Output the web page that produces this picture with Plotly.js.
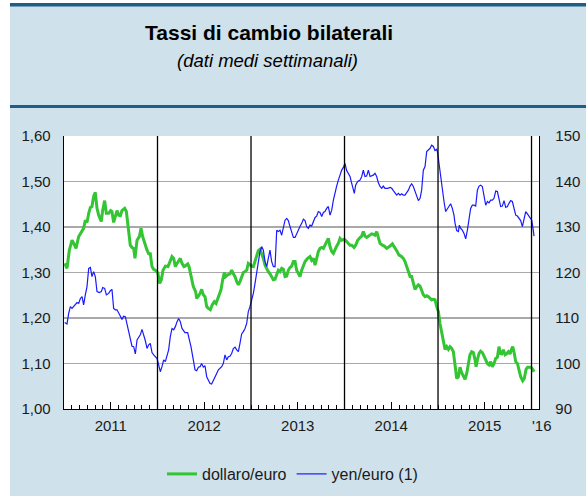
<!DOCTYPE html>
<html>
<head>
<meta charset="utf-8">
<script src="https://cdn.plot.ly/plotly-3.0.1.min.js"></script>
<style>
html,body{margin:0;padding:0;background:#cfe1eb;overflow:hidden;}
#chart{width:586px;height:496px;}
</style>
</head>
<body>
<div id="chart"></div>
<script>
// Weekly averages: [decimal year, value]
const dollaroEuro = [
[2011.007,1.320],[2011.032,1.309],[2011.057,1.349],[2011.086,1.371],[2011.114,1.360],[2011.128,1.353],[2011.157,1.379],[2011.185,1.390],[2011.210,1.397],[2011.228,1.415],[2011.246,1.410],[2011.264,1.430],[2011.282,1.443],[2011.299,1.445],[2011.317,1.467],[2011.335,1.476],[2011.353,1.441],[2011.371,1.426],[2011.399,1.412],[2011.414,1.437],[2011.435,1.458],[2011.453,1.430],[2011.478,1.430],[2011.499,1.436],[2011.513,1.434],[2011.531,1.410],[2011.549,1.423],[2011.567,1.436],[2011.585,1.426],[2011.603,1.425],[2011.620,1.436],[2011.649,1.441],[2011.667,1.434],[2011.684,1.400],[2011.709,1.360],[2011.727,1.355],[2011.745,1.353],[2011.759,1.331],[2011.781,1.371],[2011.806,1.379],[2011.824,1.397],[2011.841,1.379],[2011.863,1.364],[2011.888,1.349],[2011.906,1.341],[2011.923,1.341],[2011.941,1.313],[2011.959,1.307],[2011.984,1.304],
[2012.005,1.298],[2012.023,1.276],[2012.041,1.284],[2012.059,1.305],[2012.084,1.314],[2012.112,1.313],[2012.137,1.324],[2012.155,1.335],[2012.173,1.331],[2012.191,1.313],[2012.209,1.320],[2012.226,1.327],[2012.244,1.331],[2012.262,1.320],[2012.283,1.313],[2012.294,1.314],[2012.323,1.319],[2012.337,1.313],[2012.358,1.291],[2012.383,1.269],[2012.408,1.258],[2012.419,1.243],[2012.437,1.248],[2012.455,1.254],[2012.472,1.263],[2012.490,1.251],[2012.508,1.247],[2012.526,1.225],[2012.544,1.221],[2012.565,1.218],[2012.586,1.229],[2012.608,1.236],[2012.626,1.232],[2012.644,1.243],[2012.661,1.254],[2012.679,1.262],[2012.697,1.284],[2012.715,1.300],[2012.729,1.291],[2012.750,1.295],[2012.775,1.297],[2012.793,1.305],[2012.811,1.297],[2012.829,1.291],[2012.847,1.280],[2012.865,1.273],[2012.882,1.280],[2012.900,1.291],[2012.918,1.300],[2012.936,1.302],[2012.954,1.305],[2012.971,1.320],[2012.989,1.316],
[2013.007,1.314],[2013.025,1.313],[2013.043,1.324],[2013.061,1.338],[2013.078,1.348],[2013.096,1.351],[2013.114,1.341],[2013.132,1.331],[2013.150,1.316],[2013.168,1.307],[2013.185,1.302],[2013.203,1.297],[2013.221,1.291],[2013.239,1.284],[2013.257,1.285],[2013.275,1.298],[2013.292,1.305],[2013.310,1.302],[2013.328,1.309],[2013.346,1.307],[2013.364,1.291],[2013.382,1.292],[2013.399,1.305],[2013.417,1.311],[2013.435,1.314],[2013.453,1.324],[2013.471,1.324],[2013.488,1.305],[2013.506,1.298],[2013.524,1.291],[2013.542,1.305],[2013.560,1.316],[2013.578,1.324],[2013.606,1.331],[2013.631,1.335],[2013.649,1.327],[2013.667,1.331],[2013.685,1.316],[2013.702,1.331],[2013.720,1.346],[2013.738,1.353],[2013.756,1.355],[2013.774,1.353],[2013.791,1.360],[2013.809,1.371],[2013.827,1.375],[2013.845,1.357],[2013.863,1.346],[2013.881,1.342],[2013.898,1.351],[2013.916,1.358],[2013.934,1.364],[2013.952,1.375],[2013.970,1.371],[2013.998,1.373],
[2014.023,1.368],[2014.041,1.364],[2014.059,1.360],[2014.077,1.360],[2014.102,1.355],[2014.119,1.360],[2014.141,1.371],[2014.166,1.377],[2014.184,1.380],[2014.201,1.390],[2014.219,1.380],[2014.237,1.377],[2014.255,1.380],[2014.273,1.382],[2014.291,1.385],[2014.308,1.384],[2014.326,1.382],[2014.344,1.390],[2014.362,1.375],[2014.380,1.364],[2014.405,1.360],[2014.426,1.358],[2014.451,1.353],[2014.469,1.355],[2014.487,1.358],[2014.512,1.363],[2014.533,1.357],[2014.558,1.348],[2014.583,1.338],[2014.604,1.336],[2014.629,1.331],[2014.647,1.324],[2014.665,1.313],[2014.683,1.302],[2014.701,1.291],[2014.718,1.291],[2014.736,1.276],[2014.754,1.263],[2014.772,1.269],[2014.790,1.273],[2014.808,1.270],[2014.825,1.262],[2014.843,1.251],[2014.861,1.247],[2014.879,1.249],[2014.897,1.247],[2014.915,1.243],[2014.932,1.240],[2014.950,1.241],[2014.968,1.240],[2014.986,1.225],
[2015.004,1.214],[2015.021,1.188],[2015.039,1.170],[2015.057,1.155],[2015.075,1.131],[2015.093,1.137],[2015.111,1.131],[2015.128,1.137],[2015.146,1.133],[2015.164,1.126],[2015.182,1.100],[2015.200,1.067],[2015.218,1.071],[2015.235,1.092],[2015.253,1.080],[2015.271,1.073],[2015.289,1.065],[2015.307,1.078],[2015.324,1.100],[2015.342,1.119],[2015.360,1.126],[2015.378,1.124],[2015.396,1.108],[2015.407,1.093],[2015.421,1.108],[2015.439,1.122],[2015.456,1.127],[2015.474,1.124],[2015.492,1.116],[2015.510,1.108],[2015.528,1.100],[2015.545,1.097],[2015.563,1.104],[2015.581,1.093],[2015.599,1.100],[2015.617,1.111],[2015.635,1.114],[2015.652,1.137],[2015.667,1.122],[2015.681,1.121],[2015.699,1.130],[2015.717,1.119],[2015.734,1.121],[2015.752,1.126],[2015.770,1.121],[2015.788,1.133],[2015.799,1.137],[2015.816,1.122],[2015.831,1.104],[2015.849,1.100],[2015.866,1.082],[2015.884,1.071],[2015.906,1.062],[2015.923,1.067],[2015.941,1.087],[2015.959,1.092],[2015.977,1.092],[2015.995,1.092],[2016.013,1.087],[2016.027,1.082]
];

const yenEuro = [
[2011.007,109.0],[2011.032,108.7],[2011.050,111.0],[2011.068,112.5],[2011.086,112.1],[2011.114,112.9],[2011.139,113.4],[2011.157,113.2],[2011.175,114.3],[2011.193,114.7],[2011.210,112.9],[2011.228,115.1],[2011.246,116.9],[2011.264,120.9],[2011.282,121.1],[2011.299,119.1],[2011.317,120.2],[2011.335,119.1],[2011.353,115.8],[2011.378,115.6],[2011.399,115.8],[2011.414,116.7],[2011.435,116.5],[2011.453,115.1],[2011.478,115.4],[2011.496,116.0],[2011.513,116.3],[2011.531,112.1],[2011.549,111.8],[2011.567,111.8],[2011.585,111.2],[2011.603,110.4],[2011.620,109.7],[2011.638,110.4],[2011.656,110.3],[2011.674,108.8],[2011.692,107.0],[2011.709,105.5],[2011.727,103.8],[2011.745,103.7],[2011.763,102.1],[2011.781,105.2],[2011.799,105.9],[2011.816,106.3],[2011.834,107.5],[2011.852,106.3],[2011.870,105.0],[2011.888,103.3],[2011.906,104.1],[2011.923,104.4],[2011.941,102.4],[2011.959,101.9],[2011.977,101.6],[2011.995,101.1],
[2012.012,99.7],[2012.030,98.2],[2012.048,99.3],[2012.066,100.8],[2012.084,100.4],[2012.102,101.5],[2012.119,103.0],[2012.137,105.9],[2012.155,107.7],[2012.173,107.4],[2012.191,108.1],[2012.209,109.2],[2012.226,109.9],[2012.244,109.2],[2012.262,107.7],[2012.294,106.8],[2012.323,106.8],[2012.337,105.5],[2012.358,103.7],[2012.383,100.8],[2012.401,98.6],[2012.419,98.4],[2012.437,99.2],[2012.455,99.3],[2012.472,100.0],[2012.490,99.2],[2012.508,99.5],[2012.526,97.1],[2012.544,96.5],[2012.562,95.6],[2012.579,95.5],[2012.597,96.4],[2012.615,97.0],[2012.633,97.8],[2012.651,98.6],[2012.668,98.9],[2012.686,99.3],[2012.704,100.0],[2012.722,101.9],[2012.740,100.8],[2012.758,101.5],[2012.775,101.6],[2012.793,102.2],[2012.811,103.3],[2012.829,103.6],[2012.847,103.0],[2012.865,102.6],[2012.882,104.4],[2012.900,106.5],[2012.918,107.0],[2012.936,107.7],[2012.954,108.8],[2012.971,111.4],[2012.989,112.5],
[2013.007,114.0],[2013.025,115.4],[2013.043,117.6],[2013.061,119.8],[2013.078,122.0],[2013.096,124.6],[2013.114,125.7],[2013.132,124.9],[2013.150,122.4],[2013.168,121.3],[2013.185,123.1],[2013.203,124.9],[2013.221,122.4],[2013.239,121.3],[2013.257,121.3],[2013.275,129.3],[2013.292,129.0],[2013.310,129.3],[2013.328,128.2],[2013.346,130.1],[2013.364,131.5],[2013.382,131.9],[2013.399,131.4],[2013.417,130.1],[2013.435,128.6],[2013.453,127.7],[2013.471,127.7],[2013.488,128.6],[2013.506,129.3],[2013.524,130.1],[2013.542,130.8],[2013.560,131.7],[2013.578,131.4],[2013.595,130.1],[2013.613,129.7],[2013.631,130.4],[2013.649,130.2],[2013.667,131.2],[2013.685,132.1],[2013.702,132.4],[2013.720,133.4],[2013.738,133.2],[2013.756,132.3],[2013.774,133.2],[2013.791,133.4],[2013.809,134.1],[2013.827,134.5],[2013.845,132.6],[2013.863,133.7],[2013.881,135.9],[2013.898,137.8],[2013.916,139.0],[2013.934,140.3],[2013.952,141.6],[2013.970,142.5],[2013.988,143.1],
[2014.005,144.0],[2014.023,142.4],[2014.041,141.8],[2014.059,141.1],[2014.077,139.6],[2014.095,138.5],[2014.105,137.4],[2014.119,139.2],[2014.141,140.0],[2014.166,140.3],[2014.184,141.1],[2014.201,142.5],[2014.219,141.1],[2014.237,141.2],[2014.255,142.5],[2014.273,141.1],[2014.291,141.2],[2014.308,141.4],[2014.326,141.8],[2014.344,141.1],[2014.362,139.7],[2014.380,138.9],[2014.398,138.5],[2014.415,139.0],[2014.433,138.5],[2014.462,138.5],[2014.487,138.7],[2014.505,138.5],[2014.522,138.0],[2014.540,137.5],[2014.558,137.0],[2014.576,137.4],[2014.594,137.0],[2014.611,137.3],[2014.629,137.0],[2014.647,137.0],[2014.665,137.5],[2014.683,138.1],[2014.701,139.0],[2014.718,139.5],[2014.736,138.9],[2014.754,137.8],[2014.772,136.7],[2014.790,135.8],[2014.808,136.3],[2014.825,138.1],[2014.843,142.5],[2014.861,143.3],[2014.879,146.6],[2014.897,146.9],[2014.915,147.3],[2014.932,148.0],[2014.950,147.7],[2014.968,146.8],[2014.986,147.1],[2014.996,146.3],
[2015.011,144.0],[2015.029,140.3],[2015.046,137.4],[2015.064,135.6],[2015.082,133.4],[2015.100,133.9],[2015.118,134.6],[2015.135,135.1],[2015.153,134.1],[2015.171,132.6],[2015.182,130.8],[2015.200,129.2],[2015.218,129.0],[2015.228,130.4],[2015.243,129.7],[2015.260,129.3],[2015.278,128.6],[2015.296,127.4],[2015.314,129.3],[2015.332,131.9],[2015.349,134.1],[2015.367,134.8],[2015.385,134.8],[2015.403,134.6],[2015.421,138.1],[2015.439,139.0],[2015.456,139.2],[2015.474,138.9],[2015.492,136.7],[2015.510,134.8],[2015.528,135.6],[2015.545,135.3],[2015.563,135.9],[2015.581,135.9],[2015.599,136.3],[2015.617,137.9],[2015.635,137.8],[2015.652,135.8],[2015.670,134.5],[2015.688,134.6],[2015.706,135.8],[2015.724,134.3],[2015.742,134.5],[2015.759,135.2],[2015.777,135.8],[2015.795,135.6],[2015.813,133.7],[2015.831,132.6],[2015.849,132.4],[2015.866,131.9],[2015.884,131.4],[2015.902,130.1],[2015.920,131.5],[2015.938,133.4],[2015.956,132.9],[2015.973,132.3],[2015.991,131.9],[2016.002,131.5],[2016.016,129.7],[2016.027,128.0]
];

const yearTickVals = [2011.5, 2012.5, 2013.5, 2014.5, 2015.5];
const yearTickText = ['2011', '2012', '2013', '2014', '2015'];
const lastYearLabel = "'16";
const yearBoundaries = [2012, 2013, 2014, 2015, 2016];
const leftTicks = [1.0, 1.1, 1.2, 1.3, 1.4, 1.5, 1.6];
const rightTicks = [90, 100, 110, 120, 130, 140, 150];
const seriesNames = ['dollaro/euro', 'yen/euro (1)'];
const titleText = 'Tassi di cambio bilaterali';
const subtitleText = '(dati medi settimanali)';

const FONT = '"Liberation Sans", Arial, Helvetica, sans-serif';
const W = 586, H = 496;
const mL = 64, mR = 47, mT = 136, mB = 87;
const pw = W - mL - mR, ph = H - mT - mB;
const px = v => (v - mL) / pw;           // page x -> paper x
const py = v => (H - mB - v) / ph;       // page y -> paper y

const traces = [
  {
    x: dollaroEuro.map(p => p[0]), y: dollaroEuro.map(p => p[1]),
    type: 'scatter', mode: 'lines', name: seriesNames[0],
    line: {color: '#33c533', width: 3}, yaxis: 'y'
  },
  {
    x: yenEuro.map(p => p[0]), y: yenEuro.map(p => p[1]),
    type: 'scatter', mode: 'lines', name: seriesNames[1],
    line: {color: '#1a1aff', width: 1.2}, yaxis: 'y2'
  }
];

const shapes = [
  {type: 'rect', xref: 'paper', yref: 'paper', x0: px(0), x1: px(10), y0: py(H), y1: py(0), fillcolor: '#ffffff', line: {width: 0}, layer: 'below'},
  {type: 'rect', xref: 'paper', yref: 'paper', x0: px(0), x1: px(W), y0: py(3), y1: py(0), fillcolor: '#ffffff', line: {width: 0}, layer: 'below'},
  {type: 'line', xref: 'paper', yref: 'paper', x0: px(10), x1: px(W), y0: py(4.8), y1: py(4.8), line: {color: '#1d5f86', width: 3.5}},
  {type: 'line', xref: 'paper', yref: 'paper', x0: px(10), x1: px(W), y0: py(106.5), y1: py(106.5), line: {color: '#1d5f86', width: 3}}
];
yearBoundaries.forEach(yr => shapes.push({
  type: 'line', xref: 'x', yref: 'paper', x0: yr, x1: yr, y0: 0, y1: 1,
  line: {color: '#000000', width: 1.3}
}));

const layout = {
  width: W, height: H,
  margin: {l: mL, r: mR, t: mT, b: mB, pad: 0, autoexpand: false},
  paper_bgcolor: '#cfe1eb',
  plot_bgcolor: '#ffffff',
  separators: ', ',
  font: {family: FONT, size: 15, color: '#1a1a1a'},
  showlegend: true,
  legend: {
    orientation: 'h', x: px(162), xanchor: 'left', y: py(474), yanchor: 'middle',
    bgcolor: 'rgba(0,0,0,0)', font: {family: FONT, size: 16, color: '#1a1a1a'},
    itemgap: 16
  },
  xaxis: {
    range: [2011, 2016.08], type: 'linear',
    tickmode: 'array', tickvals: yearTickVals, ticktext: yearTickText,
    ticks: 'inside', ticklen: 7, tickwidth: 1, tickcolor: '#000000',
    minor: {dtick: 1/12, tick0: 2011, ticks: 'inside', ticklen: 4, tickwidth: 1, tickcolor: '#000000', showgrid: false},
    showgrid: false, zeroline: false,
    showline: true, linecolor: '#000000', linewidth: 1.3, mirror: false,
    tickfont: {family: FONT, size: 15, color: '#1a1a1a'},
    ticklabelstandoff: 3
  },
  yaxis: {
    range: [1.0, 1.6], tickmode: 'array', tickvals: leftTicks, tickformat: '.2f',
    ticks: '', showgrid: true, gridcolor: '#a9a9a9', gridwidth: 1.6,
    zeroline: false, showline: true, linecolor: '#000000', linewidth: 1.3,
    tickfont: {family: FONT, size: 15, color: '#1a1a1a'},
    ticklabelstandoff: 9
  },
  yaxis2: {
    range: [90, 150], tickmode: 'array', tickvals: rightTicks,
    overlaying: 'y', side: 'right', ticks: '', showgrid: false,
    zeroline: false, showline: true, linecolor: '#000000', linewidth: 1.3,
    tickfont: {family: FONT, size: 15, color: '#1a1a1a'},
    ticklabelstandoff: 12
  },
  shapes: shapes,
  annotations: [
    {xref: 'paper', yref: 'paper', x: px(268.5), y: py(32), xanchor: 'center', yanchor: 'middle',
     text: '<b>' + titleText + '</b>', showarrow: false, font: {family: FONT, size: 21, color: '#000000'}},
    {xref: 'paper', yref: 'paper', x: px(267), y: py(60), xanchor: 'center', yanchor: 'middle',
     text: '<i>' + subtitleText + '</i>', showarrow: false, font: {family: FONT, size: 18.5, color: '#000000'}},
    {xref: 'paper', yref: 'paper', x: px(541.7), y: py(425), xanchor: 'center', yanchor: 'middle',
     text: lastYearLabel, showarrow: false, font: {family: FONT, size: 15, color: '#1a1a1a'}}
  ]
};

Plotly.newPlot('chart', traces, layout, {displayModeBar: false, staticPlot: true});
</script>
</body>
</html>
